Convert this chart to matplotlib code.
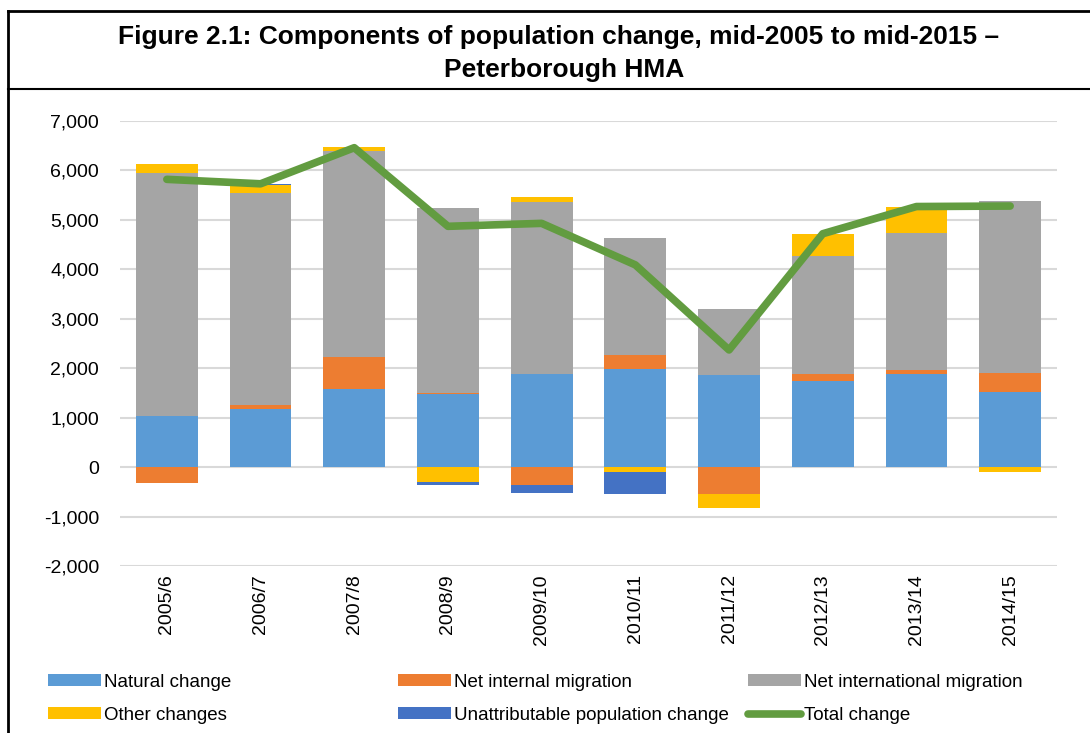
import numpy as np
import matplotlib
matplotlib.use("Agg")
import matplotlib.pyplot as plt
import matplotlib.ticker as mtick
from matplotlib.lines import Line2D
from matplotlib.patches import Patch

plt.rcParams['font.family'] = ['Liberation Sans', 'DejaVu Sans']
plt.rcParams['axes.unicode_minus'] = False

# data
years = ['2005/6', '2006/7', '2007/8', '2008/9', '2009/10',
         '2010/11', '2011/12', '2012/13', '2013/14', '2014/15']
natural = [1035, 1180, 1570, 1480, 1890, 1975, 1860, 1745, 1875, 1525]
internal = [-330, 70, 660, 15, -360, 290, -550, 140, 85, 385]
international = [4905, 4300, 4170, 3745, 3465, 2360, 1335, 2390, 2780, 3470]
other = [200, 155, 70, -300, 100, -90, -275, 430, 520, -90]
unattributable = [0, 25, 0, -60, -160, -450, 0, 0, 0, 0]
total = [5820, 5730, 6460, 4870, 4930, 4090, 2370, 4720, 5270, 5280]

series = [
    ('Natural change', natural, '#5B9BD5'),
    ('Net internal migration', internal, '#ED7D31'),
    ('Net international migration', international, '#A5A5A5'),
    ('Other changes', other, '#FFC000'),
    ('Unattributable population change', unattributable, '#4472C4'),
]
total_color = '#629C40'

fig = plt.figure(figsize=(10.9, 7.33), dpi=100)
ax = fig.add_axes([120 / 1090, 1 - 566 / 733, 937 / 1090, 445 / 733])

x = np.arange(len(years))
pos_base = np.zeros(len(years))
neg_base = np.zeros(len(years))
# excel style stacking: positives up from zero, negatives down from zero
for name, vals, col in series:
    v = np.array(vals, dtype=float)
    base = np.where(v >= 0, pos_base, neg_base)
    ax.bar(x, v, width=0.66, bottom=base, color=col, zorder=3)
    pos_base = pos_base + np.where(v > 0, v, 0)
    neg_base = neg_base + np.where(v < 0, v, 0)

ax.plot(x, total, color=total_color, lw=5.5, solid_capstyle='round',
        solid_joinstyle='round', zorder=4)

ax.set_xlim(-0.5, len(years) - 0.5)
ax.set_ylim(-2000, 7000)
ax.yaxis.set_major_locator(mtick.MultipleLocator(1000))
ax.yaxis.set_major_formatter(mtick.StrMethodFormatter('{x:,.0f}'))
ax.grid(axis='y', color='#D9D9D9', lw=1.5, zorder=0)
ax.set_axisbelow(True)
for s in ax.spines.values():
    s.set_visible(False)
ax.set_xticks(x)
ax.set_xticklabels(years, rotation=90)
ax.tick_params(axis='both', length=0, labelsize=14, colors='black')
ax.tick_params(axis='x', pad=6)
ax.tick_params(axis='y', pad=15)

# title box
fig.text(559 / 1090, 1 - 37 / 733, 'Figure 2.1: Components of population change, mid-2005 to mid-2015 \u2013',
         ha='center', va='center', fontsize=19, fontweight='bold')
fig.text(564 / 1090, 1 - 70 / 733, 'Peterborough HMA',
         ha='center', va='center', fontsize=19, fontweight='bold')
fig.add_artist(Line2D([8 / 1090, 1], [1 - 11 / 733] * 2, color='black', lw=2))
fig.add_artist(Line2D([8 / 1090, 1], [1 - 89 / 733] * 2, color='black', lw=1.5))
fig.add_artist(Line2D([8 / 1090] * 2, [0, 1 - 11 / 733], color='black', lw=2))

# legend in three columns
cols = [
    [(series[0][0], series[0][2]), (series[3][0], series[3][2])],
    [(series[1][0], series[1][2]), (series[4][0], series[4][2])],
    [(series[2][0], series[2][2]), ('Total change', None)],
]
xs = [48, 398, 748]
for xpos, entries in zip(xs, cols):
    handles = []
    labels = []
    for name, col in entries:
        if col is None:
            handles.append(Line2D([], [], color=total_color, lw=5.5, solid_capstyle='round'))
        else:
            handles.append(Patch(facecolor=col))
        labels.append(name)
    fig.legend(handles, labels, loc='upper left',
               bbox_to_anchor=(xpos / 1090, 1 - 674 / 733),
               frameon=False, fontsize=13.5, handlelength=2.8, handleheight=0.6,
               handletextpad=0.2, labelspacing=0.85, borderpad=0, borderaxespad=0)

fig.savefig('out.png', dpi=100)
